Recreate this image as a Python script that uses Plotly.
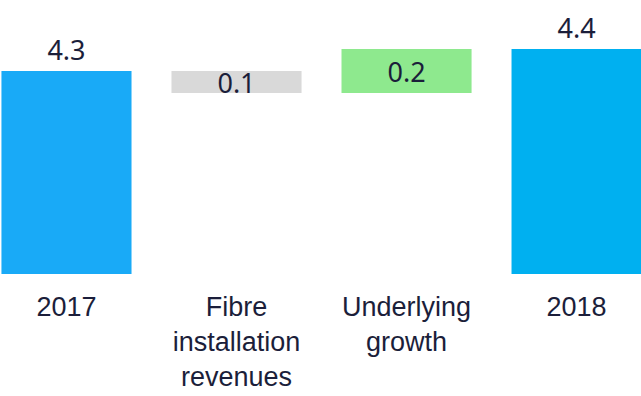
import plotly.graph_objects as go

# Revenue bridge 2017 -> 2018
categories = ["2017", "Fibre<br>installation<br>revenues", "Underlying<br>growth", "2018"]
measures = ["absolute", "relative", "relative", "absolute"]
values = [4.3, -0.1, 0.2, 4.4]
labels = ["4.3", "0.1", "0.2", "4.4"]
colors = ["#19AAF7", "#D9D9D9", "#8EE98E", "#00B0F0"]

# floating bases for the bridge steps
bases = []
running = 0.0
for m, v in zip(measures, values):
    if m == "absolute":
        bases.append(0.0)
        running = v
    else:
        bases.append(running)
        running += v

text_pos = ["outside" if m == "absolute" else "inside" for m in measures]

fig = go.Figure(
    go.Bar(
        x=categories,
        y=values,
        base=bases,
        marker=dict(color=colors, line=dict(width=0)),
        text=labels,
        textposition=text_pos,
        constraintext="none",
        insidetextanchor="middle",
        textfont=dict(family="Noto Sans", size=27, color="#1B1E3A"),
        cliponaxis=False,
        hoverinfo="skip",
    )
)

fig.update_layout(
    width=641,
    height=396,
    margin=dict(l=0, r=0, t=0, b=122),
    paper_bgcolor="white",
    plot_bgcolor="white",
    bargap=0.235,
    showlegend=False,
    xaxis=dict(
        type="category",
        range=[-0.391, 3.379],
        showgrid=False,
        zeroline=False,
        showline=False,
        ticks="",
        ticklabelstandoff=14,
        tickfont=dict(family="Liberation Sans", size=27, color="#1B1E3A"),
    ),
    yaxis=dict(
        visible=False,
        range=[3.3773, 4.6227],
        showgrid=False,
        zeroline=False,
    ),
)

fig.write_html("out.html")
